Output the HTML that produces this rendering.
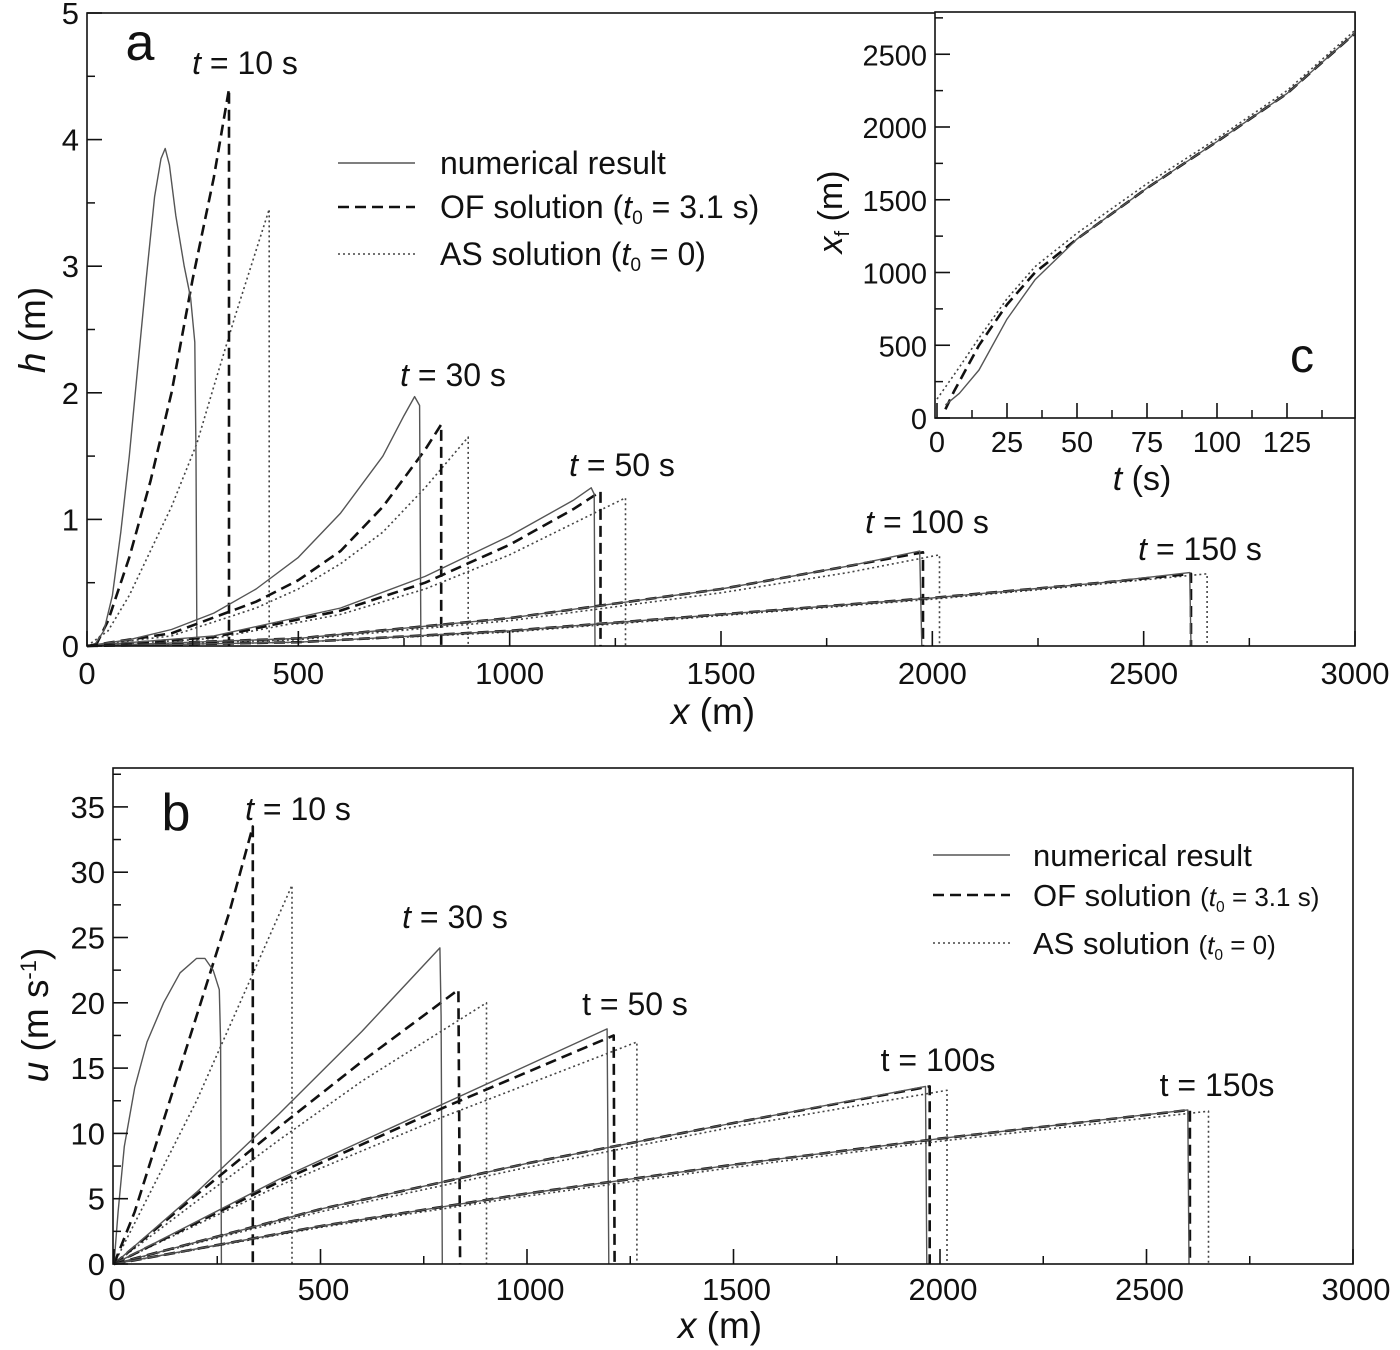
<!DOCTYPE html>
<html><head><meta charset="utf-8"><style>
html,body{margin:0;padding:0;background:#fff}
svg{display:block;font-family:"Liberation Sans",Arial,sans-serif}
</style></head><body>
<svg id="fig" width="1400" height="1350" viewBox="0 0 1400 1350" xmlns="http://www.w3.org/2000/svg">
<rect x="0" y="0" width="1400" height="1350" fill="#fff"/>
<g id="pa"></g>
<g id="pb"></g>
<g id="pc"></g>
</svg>
<script>
// ---------- Panel a data: h (m) vs x (m) ----------
const aTicksX = [0,500,1000,1500,2000,2500,3000];
const aTicksY = [0,1,2,3,4,5];
const aNum10 = [[0,0],[20,0.02],[40,0.12],[60,0.4],[80,0.9],[100,1.5],[120,2.2],[140,2.9],[160,3.55],[175,3.85],[185,3.93],[195,3.8],[210,3.4],[230,3.0],[245,2.75],[255,2.4],[258,1.5],[260,0]];
const aOF10  = [[20,0],[50,0.2],[100,0.7],[150,1.3],[200,2.0],[250,2.9],[300,3.7],[336,4.4],[336,0]];
const aAS10  = [[0,0],[50,0.12],[100,0.4],[150,0.75],[200,1.1],[260,1.6],[300,2.05],[350,2.6],[431,3.45],[431,0]];
const aNum30 = [[0,0],[100,0.05],[200,0.13],[300,0.26],[400,0.45],[500,0.7],[600,1.05],[700,1.5],[750,1.82],[775,1.97],[787,1.9],[790,0]];
const aOF30  = [[0,0],[200,0.1],[400,0.35],[500,0.52],[600,0.75],[700,1.1],[800,1.55],[838,1.75],[838,0]];
const aAS30  = [[0,0],[200,0.08],[400,0.3],[500,0.45],[600,0.65],[700,0.9],[800,1.25],[902,1.65],[902,0]];
const aNum50 = [[0,0],[300,0.08],[600,0.3],[800,0.55],[1000,0.87],[1150,1.15],[1193,1.25],[1200,1.2],[1202,0]];
const aOF50  = [[0,0],[300,0.07],[600,0.28],[800,0.5],[1000,0.8],[1150,1.08],[1215,1.22],[1215,0]];
const aAS50  = [[0,0],[300,0.06],[600,0.25],[800,0.45],[1000,0.72],[1200,1.05],[1274,1.17],[1274,0]];
const aNum100 = [[0,0],[500,0.06],[1000,0.22],[1500,0.45],[1800,0.63],[1970,0.75],[1975,0]];
const aOF100  = [[0,0],[500,0.06],[1000,0.22],[1500,0.45],[1800,0.63],[1978,0.74],[1978,0]];
const aAS100  = [[0,0],[500,0.05],[1000,0.2],[1500,0.42],[1800,0.58],[2017,0.72],[2017,0]];
const aNum150 = [[0,0],[500,0.03],[1000,0.12],[1500,0.25],[2000,0.38],[2400,0.5],[2609,0.58],[2612,0]];
const aOF150  = [[0,0],[500,0.03],[1000,0.12],[1500,0.25],[2000,0.38],[2400,0.5],[2612,0.57],[2612,0]];
const aAS150  = [[0,0],[500,0.03],[1000,0.11],[1500,0.24],[2000,0.37],[2400,0.49],[2650,0.57],[2650,0]];

// ---------- Panel b data: u (m/s) vs x (m) ----------
const bTicksX = [0,500,1000,1500,2000,2500,3000];
const bTicksY = [0,5,10,15,20,25,30,35];
const bNum10 = [[0,0],[10,4],[25,9],[50,13.5],[80,17],[120,20],[160,22.3],[200,23.4],[220,23.4],[240,22.5],[255,21],[258,17],[260,0]];
const bOF10  = [[0,0],[50,4],[100,9],[200,19],[280,27],[336,33.5],[336,0]];
const bAS10  = [[0,0],[200,12.5],[431,29],[431,0]];
const bNum30 = [[0,0],[200,5.5],[400,11.5],[600,17.8],[789,24.2],[792,19],[795,0]];
const bOF30  = [[0,0],[200,5.3],[400,10.5],[600,15.5],[834,21],[838,0]];
const bAS30  = [[0,0],[200,4.8],[400,9.5],[600,14],[902,20],[902,0]];
const bNum50 = [[0,0],[400,6.5],[800,12.3],[1194,18],[1198,0]];
const bOF50  = [[0,0],[400,6.3],[800,12],[1210,17.5],[1212,0]];
const bAS50  = [[0,0],[400,6],[800,11.3],[1266,17],[1266,0]];
const bNum100 = [[0,0],[500,4.2],[1000,7.7],[1500,10.8],[1965,13.6],[1968,0]];
const bOF100  = [[0,0],[500,4.2],[1000,7.7],[1500,10.8],[1975,13.6],[1975,0]];
const bAS100  = [[0,0],[500,4],[1000,7.4],[1500,10.5],[2017,13.3],[2017,0]];
const bNum150 = [[0,0],[500,2.9],[1000,5.4],[1500,7.6],[2000,9.6],[2600,11.8],[2603,0]];
const bOF150  = [[0,0],[500,2.9],[1000,5.4],[1500,7.6],[2000,9.6],[2605,11.8],[2605,0]];
const bAS150  = [[0,0],[500,2.8],[1000,5.2],[1500,7.4],[2000,9.4],[2650,11.7],[2650,0]];

// ---------- Panel c data: x_f (m) vs t (s) ----------
const cTicksX = [0,25,50,75,100,125];
const cTicksY = [0,500,1000,1500,2000,2500];
const cNum = [[3,90],[8,170],[15,330],[25,680],[35,950],[50,1230],[75,1580],[100,1900],[125,2230],[149,2640]];
const cOF  = [[3,60],[6,180],[15,500],[25,780],[35,1000],[50,1230],[75,1580],[100,1900],[125,2230],[149,2640]];
const cAS  = [[0,130],[8,350],[15,550],[25,820],[35,1040],[50,1270],[75,1610],[100,1920],[125,2250],[149,2660]];

const NS = "http://www.w3.org/2000/svg";
function el(tag, attrs, parent){const e=document.createElementNS(NS,tag);for(const k in attrs)e.setAttribute(k,attrs[k]);parent.appendChild(e);return e;}
const STY = {
  num:{stroke:"#555","stroke-width":"1.4",fill:"none"},
  of:{stroke:"#111","stroke-width":"2.6",fill:"none","stroke-dasharray":"11,6"},
  as:{stroke:"#444","stroke-width":"1.6",fill:"none","stroke-dasharray":"2,3"}
};
function line(g, pts, sx, sy, kind, name){
  const d = pts.map((p,i)=>(i?"L":"M")+sx(p[0]).toFixed(1)+","+sy(p[1]).toFixed(1)).join(" ");
  const p = el("path", Object.assign({d:d,"stroke-linejoin":"round"}, STY[kind]), g);
  
  
}
function txt(g, x, y, s, size, anchor, name, extra){
  const t = el("text", Object.assign({x:x,y:y,"font-size":size,"text-anchor":anchor||"middle",fill:"#111"}, extra||{}), g);
  t.innerHTML = s;
  
  
  return t;
}
function axes(g, L, T, R, B, sx, sy, ticksX, ticksY, minorX, minorY, prefix, o){
  const f = el("rect",{x:L,y:T,width:R-L,height:B-T,fill:o.fill||"none",stroke:"#111","stroke-width":"1.6"},g);
  
  
  if(o.before) o.before();
  minorY.forEach(v=>{const t=el("line",{x1:L,x2:L+8,y1:sy(v),y2:sy(v),stroke:"#111","stroke-width":"1.5"},g);
    
    });
  ticksY.forEach(v=>{const t=el("line",{x1:L,x2:L+15,y1:sy(v),y2:sy(v),stroke:"#111","stroke-width":"1.6"},g);
    
    
    txt(g, L-8, sy(v)+11, String(v), o.fs, "end", prefix+'-y-tick-label');});
  minorX.forEach(v=>{const t=el("line",{x1:sx(v),x2:sx(v),y1:B,y2:B-8,stroke:"#111","stroke-width":"1.5"},g);
    
    });
  ticksX.forEach(v=>{const t=el("line",{x1:sx(v),x2:sx(v),y1:B,y2:B-15,stroke:"#111","stroke-width":"1.6"},g);
    
    
    txt(g, sx(v)+(o.lx||0), B+o.dy, String(v), o.fs, "middle", prefix+'-x-tick-label');});
}
function legend(g, x0, x1, xt, ys, fs, subs){
  const kinds=["num","of","as"];
  const labels=["numerical result",
    'OF solution <tspan font-size="'+subs+'">(<tspan font-style="italic">t</tspan><tspan font-size="'+(subs*0.6)+'" dy="6">0</tspan><tspan dy="-6"> = 3.1 s)</tspan></tspan>',
    'AS solution <tspan font-size="'+subs+'">(<tspan font-style="italic">t</tspan><tspan font-size="'+(subs*0.6)+'" dy="6">0</tspan><tspan dy="-6"> = 0)</tspan></tspan>'];
  kinds.forEach((k,i)=>{
    const l=el("line",Object.assign({x1:x0,x2:x1,y1:ys[i],y2:ys[i]},STY[k]),g);
    
    
    txt(g, xt, ys[i]+11, labels[i], fs, "start", 'legend-label-'+k);
  });
}
const TL = t => '<tspan font-style="italic">t</tspan> = '+t+' s';

// ---- Panel a ----
(function(){
  const g=document.getElementById("pa");
  const L=87,R=1355,T=13,B=646;
  const sx=v=>L+(v/3000)*(R-L), sy=v=>B-(v/5)*(B-T);
  const series=[[aNum10,aOF10,aAS10],[aNum30,aOF30,aAS30],[aNum50,aOF50,aAS50],[aNum100,aOF100,aAS100],[aNum150,aOF150,aAS150]];
  const tn=[10,30,50,100,150];
  series.forEach((s,i)=>{line(g,s[2],sx,sy,"as","as-h-t"+tn[i]);line(g,s[1],sx,sy,"of","of-h-t"+tn[i]);line(g,s[0],sx,sy,"num","num-h-t"+tn[i]);});
  axes(g,L,T,R,B,sx,sy,aTicksX,aTicksY,[250,750,1250,1750,2250,2750],[0.5,1.5,2.5,3.5,4.5],"a",{fs:31,dy:38});
  txt(g,140,60,"a",52,"middle","panel-a-label");
  txt(g,245,74,TL(10),32,"middle","label-a-t10");
  txt(g,453,386,TL(30),32,"middle","label-a-t30");
  txt(g,622,476,TL(50),32,"middle","label-a-t50");
  txt(g,927,533,TL(100),32,"middle","label-a-t100");
  txt(g,1200,560,TL(150),32,"middle","label-a-t150");
  legend(g,338,415,440,[163,207,254],32,32);
  txt(g,713,724,'<tspan font-style="italic">x</tspan> (m)',37,"middle","x-axis-title-a");
  txt(g,0,0,'<tspan font-style="italic">h</tspan> (m)',37,"middle","y-axis-title-a",{transform:"translate(45,330) rotate(-90)"});
})();

// ---- Panel c (inset) ----
(function(){
  const g=document.getElementById("pc");
  const L=935,R=1355,T=12,B=418;
  const sx=v=>937+v*2.8, sy=v=>B-v*0.1455;
  axes(g,L,T,R,B,sx,sy,cTicksX,cTicksY,[12.5,37.5,62.5,87.5,112.5,137.5],[250,750,1250,1750,2250,2750],"c",{fs:29,dy:34,fill:"#fff",
    before:function(){line(g,cAS,sx,sy,"as","as-front");line(g,cOF,sx,sy,"of","of-front");line(g,cNum,sx,sy,"num","num-front");}});
  txt(g,1302,372,"c",48,"middle","panel-c-label");
  txt(g,1142,490,'<tspan font-style="italic">t</tspan> (s)',34,"middle","x-axis-title-c");
  txt(g,0,0,'<tspan font-style="italic">x</tspan><tspan font-size="20" dy="7">f</tspan><tspan dy="-7"> (m)</tspan>',34,"middle","y-axis-title-c",{transform:"translate(842,212) rotate(-90)"});
})();

// ---- Panel b ----
(function(){
  const g=document.getElementById("pb");
  const L=113,R=1353,T=768,B=1264;
  const sx=v=>114+v*0.4130, sy=v=>B-v*13.06;
  const series=[[bNum10,bOF10,bAS10],[bNum30,bOF30,bAS30],[bNum50,bOF50,bAS50],[bNum100,bOF100,bAS100],[bNum150,bOF150,bAS150]];
  const tn=[10,30,50,100,150];
  series.forEach((s,i)=>{line(g,s[2],sx,sy,"as","as-u-t"+tn[i]);line(g,s[1],sx,sy,"of","of-u-t"+tn[i]);line(g,s[0],sx,sy,"num","num-u-t"+tn[i]);});
  axes(g,L,T,R,B,sx,sy,bTicksX,bTicksY,[250,750,1250,1750,2250,2750],[2.5,7.5,12.5,17.5,22.5,27.5,32.5,37.5],"b",{fs:31,dy:36,lx:3});
  txt(g,176,830,"b",52,"middle","panel-b-label");
  txt(g,298,820,TL(10),32,"middle","label-b-t10");
  txt(g,455,928,TL(30),32,"middle","label-b-t30");
  txt(g,635,1015,'t = 50 s',32,"middle","label-b-t50");
  txt(g,938,1071,'t = 100s',32,"middle","label-b-t100");
  txt(g,1217,1096,'t = 150s',32,"middle","label-b-t150");
  legend(g,933,1010,1033,[855,895,943],31,26);
  txt(g,720,1338,'<tspan font-style="italic">x</tspan> (m)',37,"middle","x-axis-title-b");
  txt(g,0,0,'<tspan font-style="italic">u</tspan> (m s<tspan font-size="22" dy="-12">-1</tspan><tspan dy="12">)</tspan>',37,"middle","y-axis-title-b",{transform:"translate(48,1015) rotate(-90)"});
})();
</script>
</body></html>
